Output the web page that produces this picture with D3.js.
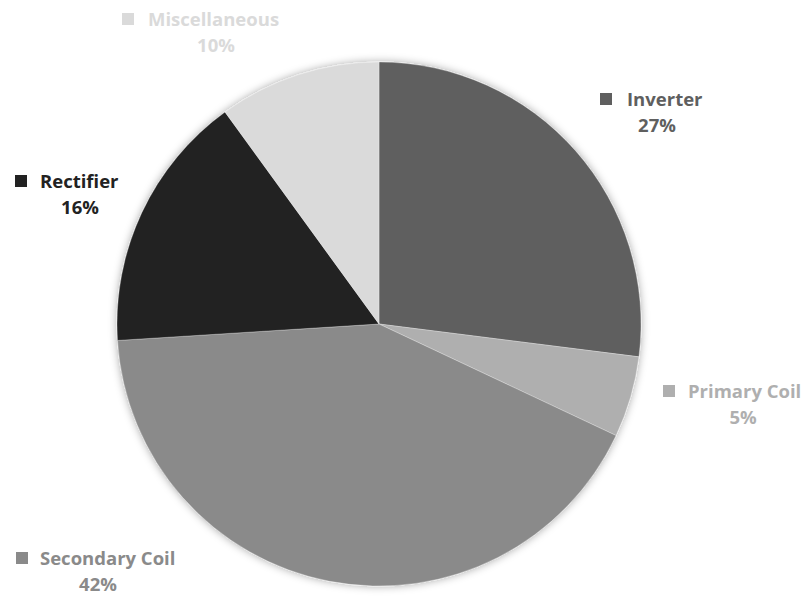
<!DOCTYPE html>
<html>
<head>
<meta charset="utf-8">
<script src="https://cdn.jsdelivr.net/npm/d3@7"></script>
<style>
  html, body { margin: 0; padding: 0; background: #ffffff; }
  svg { display: block; }
  text { font-family: "Open Sans", Lato, sans-serif; font-weight: 700; }
</style>
</head>
<body>
<svg id="chart" width="806" height="596"></svg>
<script>
// Share of loss by component, clockwise from 12 o'clock
const categories = ["Inverter", "Primary Coil", "Secondary Coil", "Rectifier", "Miscellaneous"];
const shares = [27, 5, 42, 16, 10];
const pctLabels = ["27%", "5%", "42%", "16%", "10%"];
const sliceColors = ["#5f5f5f", "#afafaf", "#8a8a8a", "#222222", "#dadada"];

// Label placement: legend key corner, name baseline, percentage centre x
const labelLayout = [
  { keyX: 600, nameX: 627, baseY: 106, pctX: 657 },
  { keyX: 663, nameX: 688, baseY: 398, pctX: 743 },
  { keyX: 16,  nameX: 40,  baseY: 565, pctX: 98 },
  { keyX: 15,  nameX: 40,  baseY: 188, pctX: 80 },
  { keyX: 122, nameX: 148, baseY: 26,  pctX: 216 }
];

const width = 806, height = 596;
const cx = 379, cy = 324, radius = 262;

const svg = d3.select("#chart");

const defs = svg.append("defs");
const shadow = defs.append("filter")
  .attr("id", "pieShadow")
  .attr("x", "-20%").attr("y", "-20%")
  .attr("width", "140%").attr("height", "140%");
shadow.append("feDropShadow")
  .attr("dx", 0).attr("dy", 0)
  .attr("stdDeviation", 4)
  .attr("flood-color", "#000")
  .attr("flood-opacity", 0.35);

const data = categories.map((c, i) => ({ name: c, value: shares[i], pct: pctLabels[i], color: sliceColors[i], layout: labelLayout[i] }));

const pie = d3.pie().value(d => d.value).sort(null);
const arc = d3.arc().innerRadius(0).outerRadius(radius);

const g = svg.append("g").attr("transform", `translate(${cx},${cy})`);

g.append("g")
  .attr("filter", "url(#pieShadow)")
  .selectAll("path")
  .data(pie(data))
  .join("path")
  .attr("d", arc)
  .attr("fill", d => d.data.color)
  .attr("stroke", "#ffffff")
  .attr("stroke-opacity", 0.5)
  .attr("stroke-width", 0.6);

// Data labels with legend key
const labels = svg.append("g").selectAll("g")
  .data(data)
  .join("g");

labels.append("rect")
  .attr("x", d => d.layout.keyX)
  .attr("y", d => d.layout.baseY - 13)
  .attr("width", 12)
  .attr("height", 12)
  .attr("fill", d => d.color);

labels.append("text")
  .attr("x", d => d.layout.nameX)
  .attr("y", d => d.layout.baseY)
  .attr("font-size", 18.5)
  .attr("fill", d => d.color)
  .text(d => d.name);

labels.append("text")
  .attr("x", d => d.layout.pctX)
  .attr("y", d => d.layout.baseY + 26)
  .attr("text-anchor", "middle")
  .attr("font-size", 18.5)
  .attr("fill", d => d.color)
  .text(d => d.pct);
</script>
</body>
</html>
